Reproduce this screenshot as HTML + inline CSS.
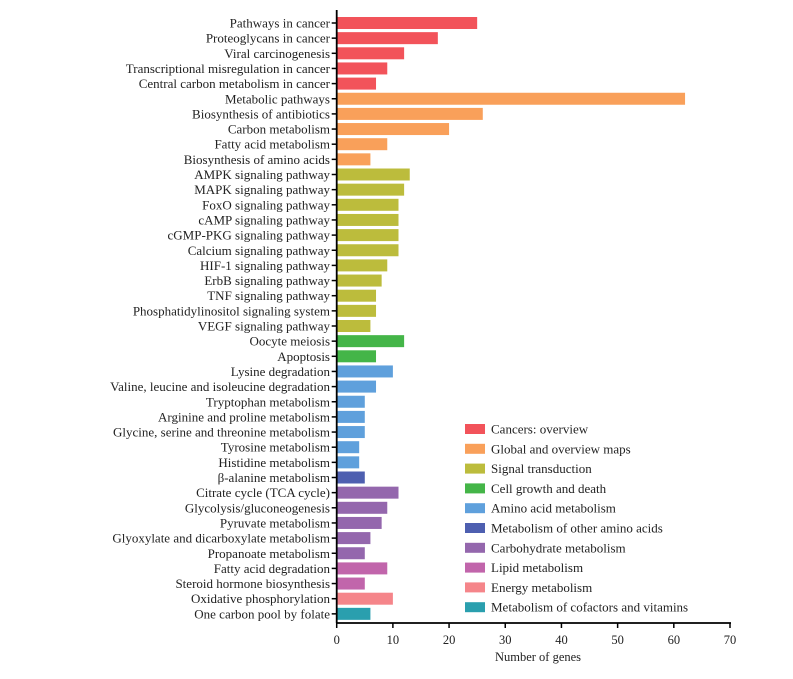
<!DOCTYPE html>
<html><head><meta charset="utf-8"><style>
body{margin:0;background:#fff}
text{font-family:"Liberation Serif",serif;fill:#222}
</style></head><body>
<svg id="c" width="793" height="674" xmlns="http://www.w3.org/2000/svg"></svg>
<script>
const categories=["Pathways in cancer","Proteoglycans in cancer","Viral carcinogenesis","Transcriptional misregulation in cancer","Central carbon metabolism in cancer","Metabolic pathways","Biosynthesis of antibiotics","Carbon metabolism","Fatty acid metabolism","Biosynthesis of amino acids","AMPK signaling pathway","MAPK signaling pathway","FoxO signaling pathway","cAMP signaling pathway","cGMP-PKG signaling pathway","Calcium signaling pathway","HIF-1 signaling pathway","ErbB signaling pathway","TNF signaling pathway","Phosphatidylinositol signaling system","VEGF signaling pathway","Oocyte meiosis","Apoptosis","Lysine degradation","Valine, leucine and isoleucine degradation","Tryptophan metabolism","Arginine and proline metabolism","Glycine, serine and threonine metabolism","Tyrosine metabolism","Histidine metabolism","β-alanine metabolism","Citrate cycle (TCA cycle)","Glycolysis/gluconeogenesis","Pyruvate metabolism","Glyoxylate and dicarboxylate metabolism","Propanoate metabolism","Fatty acid degradation","Steroid hormone biosynthesis","Oxidative phosphorylation","One carbon pool by folate"];
const values=[25,18,12,9,7,62,26,20,9,6,13,12,11,11,11,11,9,8,7,7,6,12,7,10,7,5,5,5,4,4,5,11,9,8,6,5,9,5,10,6];
const groups=[0,0,0,0,0,1,1,1,1,1,2,2,2,2,2,2,2,2,2,2,2,3,3,4,4,4,4,4,4,4,5,6,6,6,6,6,7,7,8,9];
const groupNames=["Cancers: overview","Global and overview maps","Signal transduction","Cell growth and death","Amino acid metabolism","Metabolism of other amino acids","Carbohydrate metabolism","Lipid metabolism","Energy metabolism","Metabolism of cofactors and vitamins"];
const ticks=[0,10,20,30,40,50,60,70];
const colors=["#f2535a","#f9a05a","#bcbc3c","#44b548","#5fa0dc","#4e5fb0","#9467ad","#c165ab","#f5858a","#2a9fae"];
const svg=document.getElementById('c');const NS="http://www.w3.org/2000/svg";
function mk(t,a,p){const e=document.createElementNS(NS,t);for(const k in a)e.setAttribute(k,a[k]);(p||svg).appendChild(e);return e;}
const x0=336.7,xs=393.3/70,y0=23,step=15.15,bh=12,axY=623;
const X=v=>x0+v*xs, Y=i=>y0+i*step;
categories.forEach((c,i)=>{
 const r=mk('rect',{x:x0,y:Y(i)-bh/2,width:X(values[i])-x0,height:bh,fill:colors[groups[i]]});
 
 
 const t=mk('text',{x:330,y:Y(i)+4.5,'text-anchor':'end','font-size':13});t.textContent=c;
 
 
 mk('line',{x1:x0-5,x2:x0,y1:Y(i),y2:Y(i),stroke:'#000','stroke-width':1.5});
});
const ya=mk('line',{x1:x0,x2:x0,y1:10,y2:axY,stroke:'#000','stroke-width':1.8});


const xa=mk('line',{x1:x0,x2:X(70)+1,y1:axY,y2:axY,stroke:'#000','stroke-width':1.8});


ticks.forEach(v=>{
 mk('line',{x1:X(v),x2:X(v),y1:axY,y2:axY+5,stroke:'#000','stroke-width':1.5});
 const t=mk('text',{x:X(v),y:644,'text-anchor':'middle','font-size':12.5});t.textContent=v;
 
 
});
const xt=mk('text',{x:538,y:661,'text-anchor':'middle','font-size':12.5});xt.textContent="Number of genes";


groupNames.forEach((g,i)=>{
 const y=429+i*19.8;
 const s=mk('rect',{x:465,y:y-5,width:20,height:10,fill:colors[i]});
 
 
 const t=mk('text',{x:491,y:y+4.5,'font-size':13});t.textContent=g;
 
 
});
</script>
</body></html>
